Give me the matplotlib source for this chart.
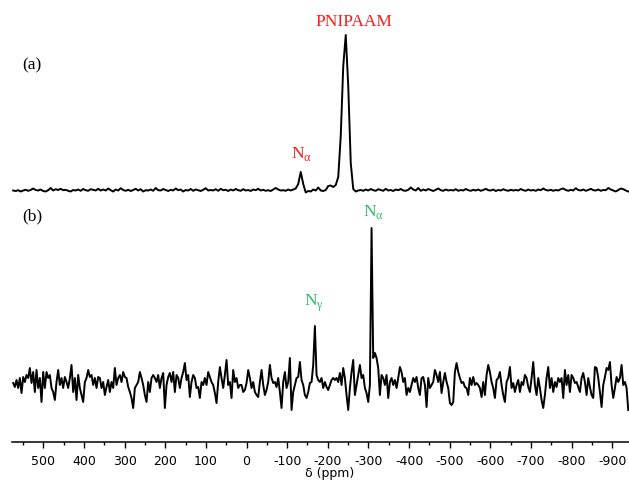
import numpy as np
import matplotlib.pyplot as plt
from matplotlib.ticker import MultipleLocator

plt.rcParams['mathtext.fontset'] = 'custom'
plt.rcParams['mathtext.rm'] = 'Liberation Serif'
plt.rcParams['axes.unicode_minus'] = False

# spectrum (a): baseline-corrected intensity, sampled every ~6.15 ppm
A_START, A_STEP = 574.1, -6.152
spec_a = [
    0.5, 0, 0.8, -0.5, 0.5, 1.2, 0.2, 1.0, 2.5, 1.0,
    0.5, 1.5, 0, -0.5, 0.8, 3.0, 0.5, 1.8, 1.0, 2.2,
    0.8, 1.2, 0.2, -0.5, 1.0, 0.5, 1.5, 0.2, 2.0, 0.8,
    0.2, 1.8, 1.2, 0.5, 2.2, 0.5, 1.5, 0.5, 2.5, 0.8,
    -0.5, 1.5, 0.5, 2.8, 1.0, 0.2, 1.2, 0, 1.0, 2.2,
    0.5, 1.8, -0.5, 0.8, 0.5, 1.5, 0.2, 3.0, 0.8, 0.5,
    2.0, 1.0, 0, 1.2, 0.5, 2.5, 0.8, 1.5, -0.5, 1.0,
    0.5, 2.0, 0.2, 1.5, 0.8, 0, 1.2, 2.8, 0.5, 1.0,
    0.5, 1.8, 0.2, 2.2, 0.8, 1.2, 0, 1.5, 0.5, 2.0,
    0.8, 0.2, 1.8, 0.5, 1.0, 0, 1.5, 0.8, 2.2, 0.5,
    1.2, 0.2, 0.8, 0, 1.5, 3.0, 1.5, 0.5, 0.8, 0.2,
    1.5, 0.5, 1.5, 2.5, 7.0, 19.0, 7.0, -1.5, 0, -0.5,
    1.5, 0.5, 3.5, 0.5, 0, 1.0, 5.0, 5.5, 4.0, 6.0,
    14, 55, 125, 156, 105, 28, 2, -0.5, 0.5, 1.0,
    0.2, 1.5, 0.5, 2.0, 0.8, 0.2, 1.8, 1.0, 0.2, 2.2,
    0.5, 1.0, 0, 1.5, 0.8, 2.0, 0.5, 0.2, 1.2, 3.5,
    1.5, 0.5, 3.0, 0.2, 1.5, 0.5, 2.0, 1.0, 0, 1.2,
    2.5, 0.8, 0.2, 1.5, 0.5, 1.0, 0.5, 1.8, 0.2, 1.0,
    0.5, 2.0, 0.8, 0.2, 1.2, 0.5, 1.5, 0.2, 1.0, 2.2,
    0.8, 0.5, 1.5, 0, 1.0, 0.5, 1.8, 0.8, 0.2, 1.2,
    0.5, 1.0, 0.5, 2.0, 0.8, 0.2, 1.5, 0.5, 1.0, 0.2,
    1.5, 0.8, 2.5, 1.0, 0.5, 1.2, 0.2, 1.0, 0.5, 1.8,
    2.5, 1.0, 0.2, 1.2, 0.5, 2.8, 1.0, 0.5, 1.5, 0.2,
    1.0, 2.2, 0.8, 0.5, 1.5, 0.2, 1.0, 0.8, 3.0, 1.5,
    0.5, -0.5, 1.0, 2.5, 1.8, 0.5, -0.5,
]

# spectrum (b): sampled every ~4.1 ppm
B_START, B_STEP = 574.1, -4.101
spec_b = [
    -2, -6, 1, -7, 3, -12, 4, -1, 6, 3,
    13, -2, 9, -11, 11, -7, 3, -21, 9, -7,
    9, 3, 6, -7, -11, -19, -1, 11, -4, 3,
    -7, 4, -1, -7, 3, 16, -11, 3, -19, 6,
    -7, -14, -21, -1, 3, 11, 4, 6, -4, 3,
    -7, 4, 3, -7, -1, -14, -6, 1, -11, -1,
    -7, 13, -4, 3, 6, -1, 9, 4, 3, -6,
    -11, -17, -27, -7, -4, -1, 9, 3, -4, -14,
    -21, -1, -11, 3, 6, 3, -1, 6, -7, 3,
    8, -27,
    -4, 4, 8, -1, 9, -11, 6, 3, -7, 3,
    9, 18, 1, 6, -16, -1, 6, 3, -7, -6,
    -17, -1, -4, 3, -4, 9, 4, -1, -4, -12,
    -22, -1, 14, 3, -7, 6, 21, -4, -1, -17,
    11, -1, 3, -7, -4, -4, -11, -9, -2, 11,
    3, -7, -1, -11, -14, -16, -1, 11, -4, -14,
    -9, -1, 16, 3, -2, -1, -6, 3, -11, -27,
    -1, 9, -7, -1, 23, -29, -11, -4, 3, 4,
    19, 1, -4, -14, -17, -11, -2, -1, 16, 55,
    6, 1, -1,
    3, -7, -1, -6, -9, -4, 1, 3, 1, 3,
    -1, 8, -4, 13, 3, -14, -29, -7, 9, 21,
    -14, -4, 6, 16, 3, 6, -7, -12, -21, -4,
    153, 23, 28, 23, 13, -14, 6, 3, -4, 6,
    -17, -1, 3, -4, 1, -7, 3, 14, 9, -1,
    3, -14, -7, -11, -4, 3, -1, 4, -7, -14,
    3, 4, -4, -26, 3, -7, -4, -1, 11, 6,
    -1, 9, -12, -1, 8, -1, -7, -22, -24, -21,
    9, 18, 9, 3, -2, -1, -6, -7, -14, 3,
    -4, 4, -4,
    -2, -4, -7, -16, -1, -14, 6, 16, 9, -1,
    -7, -17, 1, 3, 9, -4, -14, -21, -1, 3,
    14, -7, -2, -11, -4, 1, -11, -1, -4, 6,
    3, -6, -11, 3, 19, -4, -14, 3, -7, -19,
    -27, -14, 3, 14, -7, 3, -11, -1, -6, 3,
    -1, 3, -17, 11, -4, 6, -11, 6, 3, -2,
    -1, -6, -11, 3, 8, -1, -14, 3, -6, -14,
    -17, 14, 13, 3, -11, -26, -4, 4, 13, 11,
    19, -4, -17, -7, 4, -1, 3, 16, -4, -1,
    -7, -29,
]

ppm_a = A_START + A_STEP * np.arange(len(spec_a))
ppm_b = B_START + B_STEP * np.arange(len(spec_b))
spec_a = np.array(spec_a)
spec_b = np.array(spec_b)

fig = plt.figure(figsize=(6.29, 4.8), dpi=100)
ax = fig.add_axes([12/629, 38/480, 617/629, 442/480])

ax.plot(ppm_a, spec_a + 190, 'k-', lw=1.4)
ax.plot(ppm_b, spec_b, 'k-', lw=1.4)

ax.set_xlim(577, -941)
ax.set_ylim(-61, 381)
for s in ['left', 'right', 'top']:
    ax.spines[s].set_visible(False)
ax.spines['bottom'].set_linewidth(1.1)
ax.set_yticks([])
ax.set_xticks(np.arange(500, -901, -100))
ax.xaxis.set_minor_locator(MultipleLocator(50))
ax.tick_params(which='major', direction='out', length=4.3, width=1, labelsize=9, pad=5)
ax.tick_params(which='minor', direction='out', length=2.2, width=1)
ax.set_xlabel('δ (ppm)', fontsize=9)
ax.xaxis.set_label_coords(0.514, -0.056)

serif = dict(family='Liberation Serif', fontsize=12.5, ha='center', va='center')
red = '#ff1a1a'
green = '#2bbf6a'
ax.text(-264, 359, 'PNIPAAM', color=red, **serif)
ax.text(-134, 227, 'N$_{\\mathrm{α}}$', color=red, **serif)
ax.text(528, 316, '(a)', color='k', **serif)
ax.text(528, 165, '(b)', color='k', **serif)
ax.text(-311, 169, 'N$_{\\mathrm{α}}$', color=green, **serif)
ax.text(-166, 78, 'N$_{\\mathrm{γ}}$', color=green, **serif)

fig.savefig('out.png', dpi=100)
